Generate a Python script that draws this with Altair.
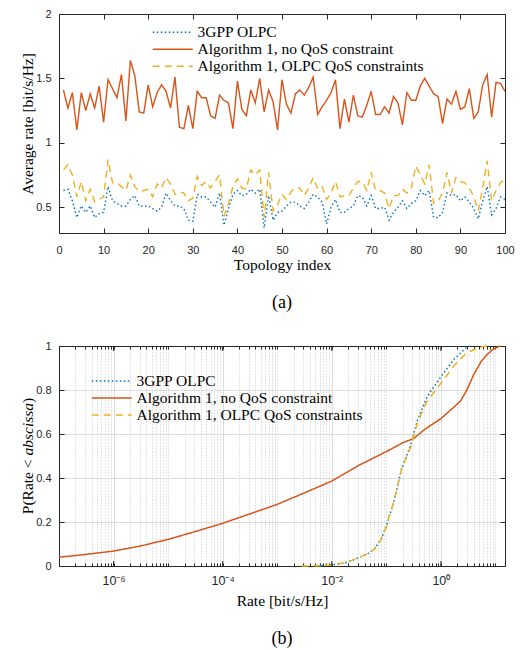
import altair as alt
import pandas as pd

# ---------------- data ----------------
names = ["3GPP OLPC", "Algorithm 1, no QoS constraint", "Algorithm 1, OLPC QoS constraints"]
colors = ["#0072BD", "#D95319", "#EDB120"]
dashes = [[1.5, 2.5], [1, 0], [7, 5]]

topology_index = list(range(1, 101))
rate_3gpp = [0.63, 0.64, 0.55, 0.42, 0.51, 0.46, 0.51, 0.42, 0.45, 0.46,
             0.66, 0.55, 0.53, 0.51, 0.51, 0.56, 0.59, 0.51, 0.51, 0.51,
             0.49, 0.47, 0.50, 0.61, 0.55, 0.51, 0.51, 0.49, 0.40, 0.39,
             0.60, 0.58, 0.58, 0.54, 0.50, 0.61, 0.36, 0.49, 0.60, 0.63,
             0.59, 0.60, 0.64, 0.61, 0.64, 0.34, 0.59, 0.40, 0.46, 0.47,
             0.51, 0.54, 0.54, 0.51, 0.49, 0.54, 0.60, 0.58, 0.54, 0.37,
             0.50, 0.56, 0.46, 0.46, 0.49, 0.51, 0.59, 0.58, 0.51, 0.59,
             0.49, 0.49, 0.50, 0.40, 0.46, 0.50, 0.55, 0.49, 0.53, 0.55,
             0.63, 0.59, 0.63, 0.42, 0.42, 0.46, 0.61, 0.59, 0.60, 0.55,
             0.58, 0.54, 0.49, 0.41, 0.55, 0.66, 0.44, 0.49, 0.58, 0.56]
rate_alg1 = [1.41, 1.27, 1.39, 1.10, 1.39, 1.25, 1.38, 1.27, 1.44, 1.16,
             1.49, 1.42, 1.35, 1.53, 1.17, 1.64, 1.52, 1.24, 1.23, 1.45,
             1.28, 1.39, 1.45, 1.40, 1.27, 1.51, 1.12, 1.11, 1.29, 1.11,
             1.40, 1.35, 1.35, 1.21, 1.19, 1.37, 1.33, 1.31, 1.11, 1.48,
             1.26, 1.21, 1.41, 1.31, 1.50, 1.24, 1.41, 1.32, 1.10, 1.49,
             1.30, 1.23, 1.38, 1.41, 1.37, 1.43, 1.51, 1.22, 1.28, 1.33,
             1.39, 1.49, 1.11, 1.34, 1.16, 1.37, 1.21, 1.20, 1.29, 1.40,
             1.22, 1.22, 1.28, 1.23, 1.36, 1.31, 1.14, 1.39, 1.33, 1.33,
             1.44, 1.50, 1.44, 1.38, 1.36, 1.15, 1.34, 1.30, 1.40, 1.26,
             1.28, 1.42, 1.19, 1.24, 1.45, 1.53, 1.20, 1.47, 1.46, 1.40]
rate_alg1_qos = [0.79, 0.83, 0.75, 0.58, 0.70, 0.55, 0.64, 0.54, 0.56, 0.58,
                 0.87, 0.69, 0.69, 0.66, 0.63, 0.75, 0.66, 0.62, 0.63, 0.64,
                 0.58, 0.68, 0.65, 0.73, 0.68, 0.60, 0.62, 0.61, 0.55, 0.57,
                 0.74, 0.67, 0.70, 0.65, 0.70, 0.75, 0.43, 0.53, 0.66, 0.72,
                 0.65, 0.64, 0.79, 0.75, 0.79, 0.42, 0.77, 0.47, 0.52, 0.60,
                 0.56, 0.62, 0.65, 0.65, 0.59, 0.65, 0.73, 0.64, 0.66, 0.56,
                 0.61, 0.70, 0.58, 0.59, 0.59, 0.65, 0.70, 0.70, 0.63, 0.77,
                 0.63, 0.63, 0.61, 0.49, 0.59, 0.59, 0.64, 0.61, 0.65, 0.82,
                 0.75, 0.68, 0.83, 0.53, 0.55, 0.61, 0.77, 0.61, 0.73, 0.70,
                 0.69, 0.65, 0.58, 0.47, 0.65, 0.86, 0.55, 0.63, 0.69, 0.72]

cdf_rate_3gpp = [0.0055, 0.01, 0.018, 0.026, 0.045, 0.06, 0.08, 0.1, 0.14, 0.19,
                 0.28, 0.37, 0.56, 1.0, 1.74, 3.0, 3.5]
cdf_p_3gpp = [0.0, 0.005, 0.015, 0.03, 0.055, 0.076, 0.12, 0.18, 0.30, 0.44,
              0.55, 0.66, 0.77, 0.86, 0.94, 0.995, 1.0]
cdf_rate_alg1 = [1e-7, 3e-7, 1e-6, 3e-6, 1e-5, 3e-5, 1e-4, 3e-4, 1e-3, 3e-3,
                 1e-2, 3e-2, 0.1, 0.2, 0.32, 0.5, 1.0, 1.7, 2.3, 3.0,
                 4.0, 5.5, 7.0, 9.0, 12.3]
cdf_p_alg1 = [0.040, 0.052, 0.068, 0.090, 0.121, 0.155, 0.194, 0.235, 0.280, 0.330,
              0.386, 0.455, 0.52, 0.56, 0.58, 0.62, 0.67, 0.72, 0.75, 0.80,
              0.87, 0.93, 0.96, 0.985, 1.0]
cdf_rate_qos = [0.0028, 0.006, 0.01, 0.018, 0.026, 0.045, 0.06, 0.08, 0.1, 0.14,
                0.19, 0.28, 0.37, 0.56, 1.0, 1.74, 3.0, 5.3, 7.0]
cdf_p_qos = [0.0, 0.001, 0.005, 0.015, 0.03, 0.055, 0.076, 0.12, 0.18, 0.30,
             0.44, 0.54, 0.65, 0.75, 0.83, 0.91, 0.97, 0.995, 1.0]

x_ticks_a = list(range(0, 101, 10))
y_ticks_a = [0.5, 1, 1.5, 2]
x_major_b = [1e-6, 1e-4, 1e-2, 1.0]
x_all_b = [float(f"{m}e{k}") for k in range(-7, 2) for m in range(1, 10) if float(f"{m}e{k}") <= 15]
y_ticks_b = [0, 0.2, 0.4, 0.6, 0.8, 1]

# ---------------- style ----------------
SANS = "Liberation Sans"
SERIF = "Liberation Serif"
INK = "#262626"
W = 446
HA = 219
HB = 220


def legend(x, y, fill="transparent"):
    return alt.Legend(title=None, orient="none", legendX=x, legendY=y,
                      symbolType="M-4,0H4", symbolSize=100, symbolStrokeWidth=1.5,
                      labelFont=SERIF, labelFontSize=15.5, labelColor="black",
                      labelOffset=17, rowPadding=0, padding=0, labelLimit=400,
                      fillColor=fill)


def ax(**kw):
    base = dict(labelFont=SANS, labelFontSize=11, labelColor=INK,
                titleFont=SERIF, titleFontSize=15.5, titleFontWeight="normal",
                titleColor="black", domainColor=INK, tickColor=INK, labelFlush=False)
    base.update(kw)
    return alt.Axis(**base)


# ---------------- panel (a) ----------------
df_a = pd.DataFrame({
    "idx": topology_index * 3,
    "series": [names[0]] * 100 + [names[1]] * 100 + [names[2]] * 100,
    "rate": rate_3gpp + rate_alg1 + rate_alg1_qos,
})
xa = alt.Scale(domain=[0, 100], nice=False)
ya = alt.Scale(domain=[0.3, 2], nice=False)

leg_a = legend(106, 10.5)
lines_a = alt.Chart(df_a).mark_line(strokeWidth=1.4).encode(
    x=alt.X("idx:Q", scale=xa, axis=ax(orient="bottom", values=x_ticks_a, format="d",
                                         title="Topology index", tickSize={"expr": "-5"},
                                         labelPadding=16, titlePadding=2.5, grid=False)),
    y=alt.Y("rate:Q", scale=ya, axis=ax(orient="left", values=y_ticks_a, format="~g",
                                          title="Average rate [bit/s/Hz]", tickSize={"expr": "-5"},
                                          labelPadding=13, titlePadding=0, grid=False)),
    color=alt.Color("series:N", scale=alt.Scale(domain=names, range=colors), legend=leg_a),
    strokeDash=alt.StrokeDash("series:N", scale=alt.Scale(domain=names, range=dashes), legend=leg_a),
)
frame_a = alt.Chart(df_a).mark_point(opacity=0).encode(
    x=alt.X("idx:Q", scale=xa, axis=ax(orient="top", values=x_ticks_a, labels=False, title=None,
                                         tickSize={"expr": "-5"}, grid=False)),
    y=alt.Y("rate:Q", scale=ya, axis=ax(orient="right", values=y_ticks_a, labels=False, title=None,
                                          tickSize={"expr": "-5"}, grid=False)),
)
chart_a = alt.layer(lines_a, frame_a).resolve_axis(x="independent", y="independent").properties(
    width=W, height=HA,
    title=alt.TitleParams("(a)", orient="bottom", font=SERIF, fontSize=18, fontWeight="normal",
                          color="black", offset=21),
)

# ---------------- panel (b) ----------------
df_b = pd.DataFrame({
    "rate": cdf_rate_3gpp + cdf_rate_alg1 + cdf_rate_qos,
    "p": cdf_p_3gpp + cdf_p_alg1 + cdf_p_qos,
    "series": [names[0]] * len(cdf_rate_3gpp) + [names[1]] * len(cdf_rate_alg1) + [names[2]] * len(cdf_rate_qos),
})
xb = alt.Scale(type="log", domain=[1e-7, 15], nice=False)
yb = alt.Scale(domain=[0, 1], nice=False)

E = "round(log(datum.value)/LN10)"
major_test = f"abs(log(datum.value)/LN10 - {E}) < 1e-6 && {E} % 2 == 0"
label_expr = (f"!({major_test}) ? '' : {E} == -6 ? '10⁻⁶' : {E} == -4 ? '10⁻⁴' : "
              f"{E} == -2 ? '10⁻²' : '10⁰'")

leg_b = legend(45, 27.3)
lines_b = alt.Chart(df_b).mark_line(strokeWidth=1.5).encode(
    x=alt.X("rate:Q", scale=xb, axis=ax(orient="bottom", values=x_all_b, labelExpr=label_expr,
                                          labelOverlap=False, labelFontSize=12.5, title="Rate [bit/s/Hz]",
                                          tickSize={"expr": "-3"}, labelPadding=11, titlePadding=7,
                                          grid=True,
                                          gridColor={"condition": {"test": major_test, "value": "#dcdcdc"}, "value": "#c8c8c8"},
                                          gridDash={"condition": {"test": major_test, "value": []}, "value": [1, 2]})),
    y=alt.Y("p:Q", scale=yb, axis=ax(orient="left", values=y_ticks_b, format="~g", title=None,
                                       tickSize={"expr": "-5"}, labelPadding=13, grid=True,
                                       gridColor="#dcdcdc")),
    color=alt.Color("series:N", scale=alt.Scale(domain=names, range=colors), legend=leg_b),
    strokeDash=alt.StrokeDash("series:N", scale=alt.Scale(domain=names, range=dashes), legend=leg_b),
)
frame_b = alt.Chart(df_b).mark_point(opacity=0).encode(
    x=alt.X("rate:Q", scale=xb, axis=ax(orient="top", values=x_all_b, labels=False, title=None,
                                          tickSize={"expr": "-3"}, grid=False)),
    y=alt.Y("p:Q", scale=yb, axis=ax(orient="right", values=y_ticks_b, labels=False, title=None,
                                       tickSize={"expr": "-5"}, grid=False)),
)
df_major = pd.DataFrame({"rate": x_major_b})
major_bottom = alt.Chart(df_major).mark_rule(color=INK, strokeWidth=1).encode(
    x=alt.X("rate:Q", scale=xb, axis=None), y=alt.value(HB - 5), y2=alt.value(HB))
major_top = alt.Chart(df_major).mark_rule(color=INK, strokeWidth=1).encode(
    x=alt.X("rate:Q", scale=xb, axis=None), y=alt.value(0), y2=alt.value(5))

one = pd.DataFrame({"k": [0]})
def ylab(text, ypos, style="normal"):
    return alt.Chart(one).mark_text(text=text, angle=270, align="left", baseline="middle",
                                    font=SERIF, fontSize=15.5, fontStyle=style, color="black").encode(
        x=alt.value(-31), y=alt.value(ypos))

chart_b = alt.layer(lines_b, frame_b, major_bottom, major_top,
                    ylab("P(Rate <", 168.2), ylab("abscissa", 109.5, "italic"), ylab(")", 57)).resolve_axis(
    x="independent", y="independent").properties(
    width=W, height=HB,
    title=alt.TitleParams("(b)", orient="bottom", font=SERIF, fontSize=18, fontWeight="normal",
                          color="black", offset=21),
)

chart = alt.vconcat(chart_a, chart_b, spacing=28).resolve_scale(
    color="independent", strokeDash="independent"
).properties(
    padding={"left": 12, "top": 0, "right": 2, "bottom": 2}
).configure_view(stroke=None)

chart.save("out.html", embed_options={"renderer": "svg", "actions": False})
